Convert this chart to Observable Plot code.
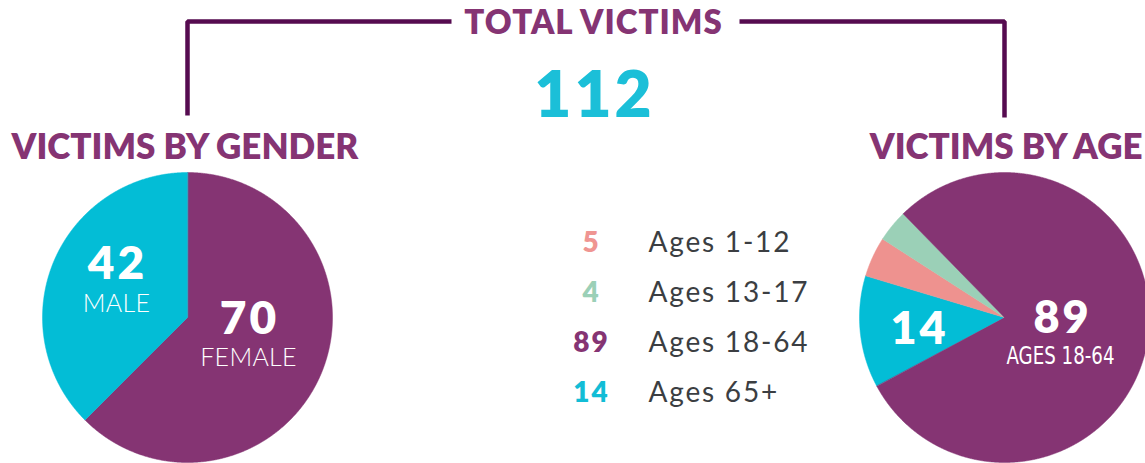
<!DOCTYPE html>
<html>
<head>
<meta charset="utf-8">
<script src="https://cdn.jsdelivr.net/npm/d3@7"></script>
<script src="https://cdn.jsdelivr.net/npm/@observablehq/plot@0.6"></script>
<style>
  html, body { margin: 0; padding: 0; background: #ffffff; }
  #chart svg { display: block; }
  g[aria-description="total-title"] text { letter-spacing: 1px; }
  g[aria-description="total-number"] text { letter-spacing: 3px; }
  g[aria-description="pie-numbers"] text { letter-spacing: 3px; }
  g[aria-description="legend-numbers"] text { letter-spacing: 2px; }
  g[aria-description="legend-labels"] text { letter-spacing: 1.8px; }
  g[aria-description="pie-names"] text { letter-spacing: 0.3px; }
</style>
</head>
<body>
<div id="chart"></div>
<script>
// ---------------- DATA ----------------
const totalVictims = 112;
const titles = ["TOTAL VICTIMS", "VICTIMS BY GENDER", "VICTIMS BY AGE"];

const genderCategories = ["FEMALE", "MALE"];
const genderValues = [70, 42];

// pie order, clockwise
const ageCategories = ["Ages 65+", "Ages 1-12", "Ages 13-17", "Ages 18-64"];
const ageValues = [14, 5, 4, 89];

// legend order
const legendCategories = ["Ages 1-12", "Ages 13-17", "Ages 18-64", "Ages 65+"];
const legendValues = [5, 4, 89, 14];

// ---------------- STYLE / LAYOUT ----------------
const W = 1145, H = 463;
const PURPLE = "#853473", CYAN = "#03bdd6", PINK = "#ee928f", GREEN = "#9bd0b7";
const LINE = "#560b50", TEXTGRAY = "#3b3e42";
const colorOf = {
  "FEMALE": PURPLE, "MALE": CYAN,
  "Ages 1-12": PINK, "Ages 13-17": GREEN, "Ages 18-64": PURPLE, "Ages 65+": CYAN
};
const legendNumColor = {"Ages 1-12": "#ef9592", "Ages 13-17": GREEN, "Ages 18-64": PURPLE, "Ages 65+": "#12bdd6"};
const R = 145;
const genderPie = {cx: 187, cy: 317, start: 0};
const agePie = {cx: 1004, cy: 317, start: 241.7 * Math.PI / 180};
const HEAD = "Lato, 'Open Sans', sans-serif";
const NARROW = "'Liberation Sans Narrow', 'DejaVu Sans Condensed', 'Liberation Sans', sans-serif";

// ---------------- PIE GEOMETRY (from data) ----------------
function pieSlices(cats, vals, pie, tag) {
  const arcs = d3.pie().sort(null).startAngle(pie.start).endAngle(pie.start + 2 * Math.PI)(vals);
  const pts = [];
  arcs.forEach((a, i) => {
    const key = tag + ":" + cats[i];
    const c = colorOf[cats[i]];
    const n = Math.max(4, Math.ceil((a.endAngle - a.startAngle) / 0.005));
    pts.push({k: key, x: pie.cx, y: pie.cy, c});
    for (let j = 0; j <= n; j++) {
      const t = a.startAngle + (a.endAngle - a.startAngle) * j / n;
      pts.push({k: key, x: pie.cx + R * Math.sin(t), y: pie.cy - R * Math.cos(t), c});
    }
  });
  return pts;
}
const slices = [
  ...pieSlices(genderCategories, genderValues, genderPie, "g"),
  ...pieSlices(ageCategories, ageValues, agePie, "a")
];

// bracket lines connecting the total to the two pies
const bracket = [
  {k: "L", x: genderPie.cx, y: 115}, {k: "L", x: genderPie.cx, y: 21}, {k: "L", x: 451, y: 21},
  {k: "R", x: 739, y: 21}, {k: "R", x: agePie.cx, y: 21}, {k: "R", x: agePie.cx, y: 117}
];

// in-pie labels
const pieNumbers = [
  {t: String(genderValues[1]), x: 117, y: 278, size: 46},
  {t: String(genderValues[0]), x: 249, y: 333, size: 46},
  {t: String(ageValues[0]), x: 919, y: 343, size: 45},
  {t: String(ageValues[3]), x: 1062, y: 332, size: 45}
];
const pieNames = [
  {t: genderCategories[1], x: 116, y: 311},
  {t: genderCategories[0], x: 248, y: 365}
];
const ageName = [{t: ageCategories[3].toUpperCase(), x: 1060, y: 363}];

const legendRows = legendCategories.map((c, i) => ({c, v: legendValues[i], y: 251 + i * 50}));

const plot = Plot.plot({
  width: W, height: H,
  margin: 0,
  x: {domain: [0, W], range: [0, W], axis: null},
  y: {domain: [0, H], range: [0, H], axis: null},
  marks: [
    Plot.line(slices, {x: "x", y: "y", z: "k", fill: "c", stroke: "c", strokeWidth: 0.5, curve: "linear-closed"}),
    Plot.line(bracket, {x: "x", y: "y", z: "k", stroke: LINE, strokeWidth: 4.5, strokeLinejoin: "miter", strokeLinecap: "butt"}),
    Plot.text([titles[0]], {x: () => 593, y: () => 33, text: d => d, fontFamily: HEAD, fontWeight: 800, fontSize: 33, fill: PURPLE, textAnchor: "middle", lineAnchor: "bottom", ariaDescription: "total-title"}),
    Plot.text([String(totalVictims)], {x: () => 594, y: () => 116, text: d => d, fontFamily: HEAD, fontWeight: 800, fontSize: 64, fill: "#1bbfd8", textAnchor: "middle", lineAnchor: "bottom", ariaDescription: "total-number"}),
    Plot.text([titles[1]], {x: () => 11, y: () => 158, text: d => d, fontFamily: HEAD, fontWeight: 800, fontSize: 35, fill: PURPLE, textAnchor: "start", lineAnchor: "bottom"}),
    Plot.text([titles[2]], {x: () => 1142, y: () => 158, text: d => d, fontFamily: HEAD, fontWeight: 800, fontSize: 35, fill: PURPLE, textAnchor: "end", lineAnchor: "bottom"}),
    Plot.text(pieNumbers, {x: "x", y: "y", text: "t", fontSize: d => d.size, fontFamily: HEAD, fontWeight: 800, fill: "white", textAnchor: "middle", lineAnchor: "bottom", ariaDescription: "pie-numbers"}),
    Plot.text(pieNames, {x: "x", y: "y", text: "t", fontSize: 25, fontFamily: HEAD, fontWeight: 300, fill: "white", textAnchor: "middle", lineAnchor: "bottom", ariaDescription: "pie-names"}),
    Plot.text(ageName, {x: "x", y: "y", text: "t", fontSize: 25, fontFamily: NARROW, fill: "white", textAnchor: "middle", lineAnchor: "bottom", ariaDescription: "age-name"}),
    Plot.text(legendRows, {x: () => 591, y: "y", text: d => String(d.v), fill: d => legendNumColor[d.c], fontSize: 28, fontFamily: HEAD, fontWeight: 800, textAnchor: "middle", lineAnchor: "bottom", ariaDescription: "legend-numbers"}),
    Plot.text(legendRows, {x: () => 648, y: "y", text: "c", fill: TEXTGRAY, fontSize: 28, fontFamily: HEAD, fontWeight: 400, textAnchor: "start", lineAnchor: "bottom", ariaDescription: "legend-labels"})
  ]
});
document.getElementById("chart").appendChild(plot);

// condense the "AGES 18-64" label to the width it has in the original
d3.select(plot).selectAll('g[aria-description="age-name"] text')
  .attr("textLength", 108).attr("lengthAdjust", "spacingAndGlyphs");
</script>
</body>
</html>
